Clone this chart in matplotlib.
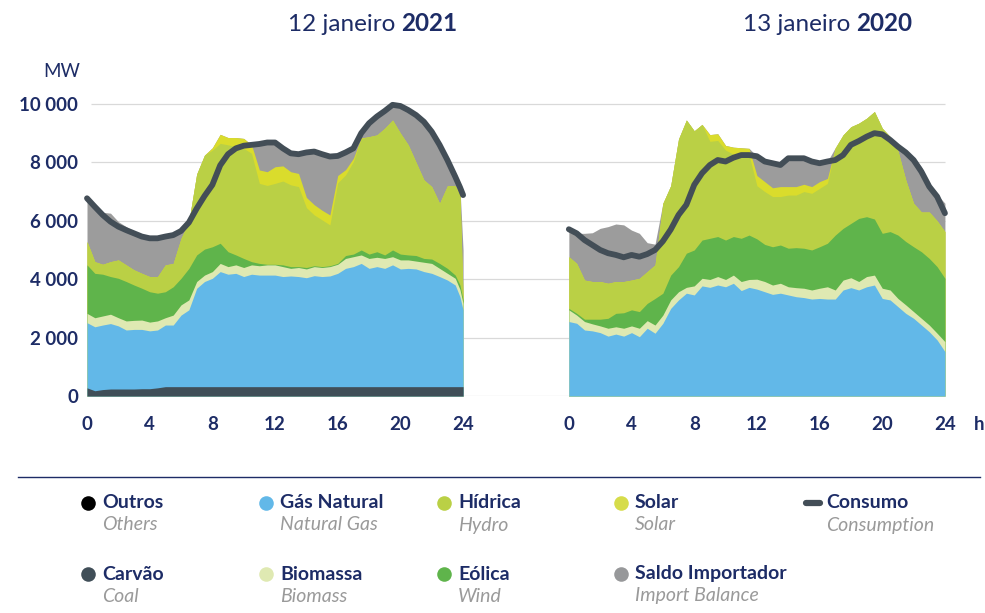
import numpy as np
import matplotlib.pyplot as plt

plt.rcParams['font.family'] = ['Lato', 'DejaVu Sans']

NAVY = '#1d2c66'
GREY_TXT = '#9a9a9a'

# ------------------------------
# DATA (MW; each *_lvl is the top of that band in the stack)
# ------------------------------
hours_21 = np.r_[np.arange(0, 24, 0.5), 23.8, 24]
hours_20 = np.arange(0, 24.5, 0.5)

# 12 janeiro 2021
coal_21 = [280, 180, 220, 240, 240, 240, 240, 250, 250, 280, 320, 320,
           320, 320, 320, 320, 320, 320, 320, 320, 320, 320, 320, 320,
           320, 320, 320, 320, 320, 320, 320, 320, 320, 320, 320, 320,
           320, 320, 320, 320, 320, 320, 320, 320, 320, 320, 320, 320,
           320, 320]
gas_lvl_21 = [2510, 2370, 2430, 2480, 2400, 2260, 2280, 2280, 2230, 2260, 2430, 2430,
              2770, 2950, 3690, 3920, 4030, 4260, 4170, 4200, 4090, 4170, 4140, 4140,
              4140, 4090, 4110, 4090, 4050, 4120, 4090, 4110, 4200, 4370, 4430, 4540,
              4370, 4430, 4370, 4490, 4350, 4370, 4350, 4260, 4200, 4090, 3970, 3800,
              3400, 2950]
bio_lvl_21 = [2830, 2680, 2740, 2800, 2680, 2570, 2590, 2600, 2530, 2570, 2680, 2770,
              3120, 3290, 3920, 4140, 4260, 4540, 4430, 4490, 4400, 4490, 4460, 4490,
              4490, 4430, 4370, 4400, 4350, 4430, 4400, 4430, 4510, 4710, 4770, 4830,
              4710, 4750, 4710, 4770, 4660, 4660, 4620, 4580, 4540, 4370, 4200, 4030,
              3650, 3170]
wind_lvl_21 = [4490, 4200, 4170, 4090, 4030, 3920, 3800, 3690, 3570, 3520, 3570, 3740,
               4030, 4370, 4830, 5030, 5110, 5230, 4940, 4830, 4710, 4600, 4540, 4510,
               4510, 4490, 4430, 4430, 4400, 4460, 4430, 4460, 4540, 4810, 4860, 5000,
               4860, 4940, 4830, 5000, 4860, 4830, 4810, 4710, 4690, 4540, 4370, 4140,
               3800, 3290]
hydro_lvl_21 = [5290, 4600, 4510, 4600, 4660, 4490, 4320, 4200, 4090, 4090, 4490, 4540,
                5400, 5970, 7600, 8250, 8420, 8650, 8600, 8540, 8480, 8310, 7280, 7210,
                7280, 7360, 7230, 7170, 6450, 6200, 6030, 5860, 7300, 7570, 8030, 8820,
                8880, 8940, 9170, 9450, 9000, 8600, 8000, 7400, 7170, 6600, 7200, 7200,
                6880, 3400]
solar_lvl_21 = [5290, 4600, 4510, 4600, 4660, 4490, 4320, 4200, 4090, 4090, 4490, 4540,
                5400, 5970, 7600, 8250, 8500, 8960, 8850, 8850, 8820, 8600, 7740, 7680,
                7850, 7880, 7680, 7620, 6800, 6550, 6360, 6200, 7550, 7750, 8140, 8840,
                8880, 8940, 9170, 9450, 9000, 8600, 8000, 7400, 7170, 6600, 7200, 7200,
                6880, 3400]
import_lvl_21 = [6660, 6450, 6290, 6260, 5970, 5800, 5630, 5510, 5420, 5400, 5460, 5510,
                 5680, 5970, 7600, 8250, 8500, 8960, 8850, 8850, 8820, 8600, 8620, 8680,
                 8680, 8480, 8310, 8280, 8340, 8370, 8280, 8200, 8220, 8340, 8480, 9000,
                 9340, 9570, 9760, 9970, 9930, 9790, 9620, 9390, 9050, 8600, 8080, 7510,
                 7150, 5000]
cons_21 = [6770, 6480, 6200, 5970, 5800, 5680, 5570, 5460, 5400, 5400, 5460, 5510,
           5650, 5940, 6420, 6850, 7230, 7900, 8280, 8480, 8570, 8600, 8630, 8680,
           8680, 8480, 8310, 8280, 8340, 8370, 8280, 8200, 8220, 8340, 8480, 9000,
           9340, 9570, 9760, 9970, 9930, 9790, 9620, 9390, 9050, 8600, 8080, 7510,
           7150, 6880]

# 13 janeiro 2020 (no coal visible)
coal_20 = [0] * 49
gas_lvl_20 = [2550, 2490, 2260, 2230, 2170, 2050, 2120, 2050, 2170, 2030, 2320, 2150,
              2490, 3000, 3290, 3520, 3460, 3770, 3720, 3800, 3740, 3860, 3610, 3720,
              3660, 3570, 3480, 3520, 3460, 3400, 3370, 3320, 3340, 3320, 3320, 3630,
              3710, 3630, 3740, 3800, 3340, 3290, 3060, 2830, 2660, 2430, 2200, 1920,
              1520]
bio_lvl_20 = [2950, 2770, 2550, 2470, 2400, 2320, 2370, 2320, 2400, 2320, 2580, 2430,
              2770, 3290, 3570, 3720, 3770, 4030, 3990, 4090, 3990, 4140, 3920, 3990,
              4000, 3920, 3800, 3860, 3740, 3710, 3690, 3630, 3690, 3740, 3630, 3970,
              4050, 3920, 4090, 4140, 3690, 3630, 3340, 3120, 2890, 2660, 2430, 2150,
              1860]
wind_lvl_20 = [3000, 2830, 2630, 2630, 2630, 2660, 2830, 2850, 2950, 2890, 3170, 3340,
               3520, 4140, 4430, 4890, 5000, 5340, 5400, 5460, 5340, 5460, 5400, 5510,
               5380, 5190, 5110, 5170, 5060, 5080, 5060, 5000, 5110, 5230, 5510, 5740,
               5910, 6080, 6140, 6060, 5570, 5630, 5510, 5290, 5110, 4940, 4710, 4430,
               4030]
hydro_lvl_20 = [4770, 4540, 3970, 3920, 3920, 3860, 3920, 3920, 3970, 4030, 4260, 4490,
                6600, 7200, 8800, 9450, 9080, 9300, 8720, 8750, 8420, 8280, 8250, 8250,
                7200, 7000, 6830, 6830, 6880, 6880, 7000, 6940, 7110, 7280, 8480, 8940,
                9220, 9340, 9510, 9740, 9170, 8880, 8400, 7400, 6600, 6300, 6300, 6000,
                5630]
solar_lvl_20 = [4770, 4540, 3970, 3920, 3920, 3860, 3920, 3920, 3970, 4030, 4260, 4490,
                6600, 7200, 8800, 9450, 9080, 9300, 8950, 8980, 8580, 8520, 8500, 8480,
                7550, 7340, 7130, 7170, 7170, 7170, 7250, 7170, 7340, 7450, 8500, 8940,
                9220, 9340, 9510, 9740, 9170, 8880, 8400, 7400, 6600, 6300, 6300, 6000,
                5630]
import_lvl_20 = [5740, 5570, 5570, 5590, 5740, 5800, 5890, 5860, 5680, 5570, 5250, 5200,
                 6600, 7200, 8800, 9450, 9080, 9300, 8950, 8980, 8580, 8520, 8500, 8480,
                 8210, 8030, 7970, 7910, 8140, 8140, 8140, 8030, 7970, 8030, 8500, 8940,
                 9220, 9340, 9510, 9740, 9170, 8880, 8540, 8340, 8150, 7850, 7300, 6900,
                 6600]
cons_20 = [5710, 5570, 5340, 5170, 5000, 4890, 4830, 4750, 4830, 4770, 4860, 5000,
           5300, 5700, 6200, 6550, 7230, 7630, 7910, 8080, 8030, 8160, 8250, 8250,
           8210, 8030, 7970, 7910, 8140, 8140, 8140, 8030, 7970, 8030, 8080, 8250,
           8600, 8730, 8880, 9000, 8960, 8770, 8540, 8340, 8080, 7680, 7170, 6830,
           6260]

x_ticks = [0, 4, 8, 12, 16, 20, 24]
y_ticks = [0, 2000, 4000, 6000, 8000, 10000]
y_tick_labels = ['0', '2 000', '4 000', '6 000', '8 000', '10 000']

# legend: (pt label, en label, colour)
legend_row1 = [('Outros', 'Others', '#000000'),
               ('Gás Natural', 'Natural Gas', '#62b8e8'),
               ('Hídrica', 'Hydro', '#bad045'),
               ('Solar', 'Solar', '#d6dc4a')]
legend_row2 = [('Carvão', 'Coal', '#404e58'),
               ('Biomassa', 'Biomass', '#dfe9b2'),
               ('Eólica', 'Wind', '#5fb44b'),
               ('Saldo Importador', 'Import Balance', '#97989a')]

# ------------------------------
# STYLE / LAYOUT
# ------------------------------
C_COAL, C_GAS, C_BIO = '#404e58', '#62b8e8', '#dfe9b2'
C_WIND, C_HYDRO, C_SOLAR, C_IMP = '#5fb44b', '#bad045', '#dadc2c', '#9c9c9c'
C_LINE = '#434e57'

W, H = 985, 613
PX_H = 15.67          # pixels per hour
X0 = 87               # pixel of hour 0 on the left panel
OFF = 30.75           # the 2020 panel starts this many "hours" to the right

fig = plt.figure(figsize=(W / 100, H / 100), dpi=100)
ax = fig.add_axes([80 / W, (H - 396) / H, 880 / W, 300.8 / H])
ax.set_xlim((80 - X0) / PX_H, (960 - X0) / PX_H)
ax.set_ylim(0, 10300)


def draw_day(x, levels, cons):
    # draw tallest band first, each from zero, so no seams between bands
    for lvl, col in levels:
        ax.fill_between(x, 0, lvl, color=col, lw=0, zorder=2)
    ax.plot(x, cons, color=C_LINE, lw=4.2, solid_capstyle='round',
            solid_joinstyle='round', zorder=3)


draw_day(hours_21, [(import_lvl_21, C_IMP), (solar_lvl_21, C_SOLAR),
                    (hydro_lvl_21, C_HYDRO), (wind_lvl_21, C_WIND),
                    (bio_lvl_21, C_BIO), (gas_lvl_21, C_GAS),
                    (coal_21, C_COAL)], cons_21)
draw_day(hours_20 + OFF, [(import_lvl_20, C_IMP), (solar_lvl_20, C_SOLAR),
                          (hydro_lvl_20, C_HYDRO), (wind_lvl_20, C_WIND),
                          (bio_lvl_20, C_BIO), (gas_lvl_20, C_GAS),
                          (coal_20, C_COAL)], cons_20)

ax.hlines(y_ticks, (91 - X0) / PX_H, OFF + 24, color='#d9d9d9', lw=0.9, zorder=1)

for s in ax.spines.values():
    s.set_visible(False)
ax.set_yticks(y_ticks, y_tick_labels)
ax.set_xticks(x_ticks + [OFF + t for t in x_ticks], [str(t) for t in x_ticks] * 2)
ax.tick_params(length=0, colors=NAVY, labelsize=13.5)
ax.tick_params(axis='y', pad=1.5)
ax.tick_params(axis='x', pad=14.5)
for lab in ax.get_xticklabels() + ax.get_yticklabels():
    lab.set_fontweight('bold')

# ------------------------------
# TEXT / LEGEND (pixel coordinates)
# ------------------------------
ov = fig.add_axes([0, 0, 1, 1])
ov.set_xlim(0, W)
ov.set_ylim(H, 0)
ov.axis('off')

ov.text(395, 31, '12 janeiro', ha='right', va='baseline', fontsize=17.5, color=NAVY)
ov.text(401, 31, '2021', ha='left', va='baseline', fontsize=17.5, color=NAVY, fontweight='bold')
ov.text(850, 31, '13 janeiro', ha='right', va='baseline', fontsize=17.5, color=NAVY)
ov.text(856, 31, '2020', ha='left', va='baseline', fontsize=17.5, color=NAVY, fontweight='bold')
ov.text(43, 77, 'MW', ha='left', va='baseline', fontsize=13.5, color=NAVY)
ov.text(979, 425, 'h', ha='center', va='center', fontsize=13.5, color=NAVY, fontweight='bold')

ov.plot([18, 980], [477, 477], color=NAVY, lw=1.0)

col_x = [88, 266, 444, 621]
for row, y in ((legend_row1, 503), (legend_row2, 574)):
    for (pt, en, col), cx in zip(row, col_x):
        ov.scatter([cx], [y], s=110, color=col, lw=0)
        ov.text(cx + 14, y, pt, ha='left', va='center', fontsize=14,
                color=NAVY, fontweight='bold')
        ov.text(cx + 14, y + 22, en, ha='left', va='center', fontsize=14,
                color=GREY_TXT, style='italic')

ov.plot([806, 820], [503, 503], color=C_LINE, lw=4.5, solid_capstyle='round')
ov.text(826, 503, 'Consumo', ha='left', va='center', fontsize=14,
        color=NAVY, fontweight='bold')
ov.text(826, 525, 'Consumption', ha='left', va='center', fontsize=14,
        color=GREY_TXT, style='italic')

fig.savefig('out.png', dpi=100)
